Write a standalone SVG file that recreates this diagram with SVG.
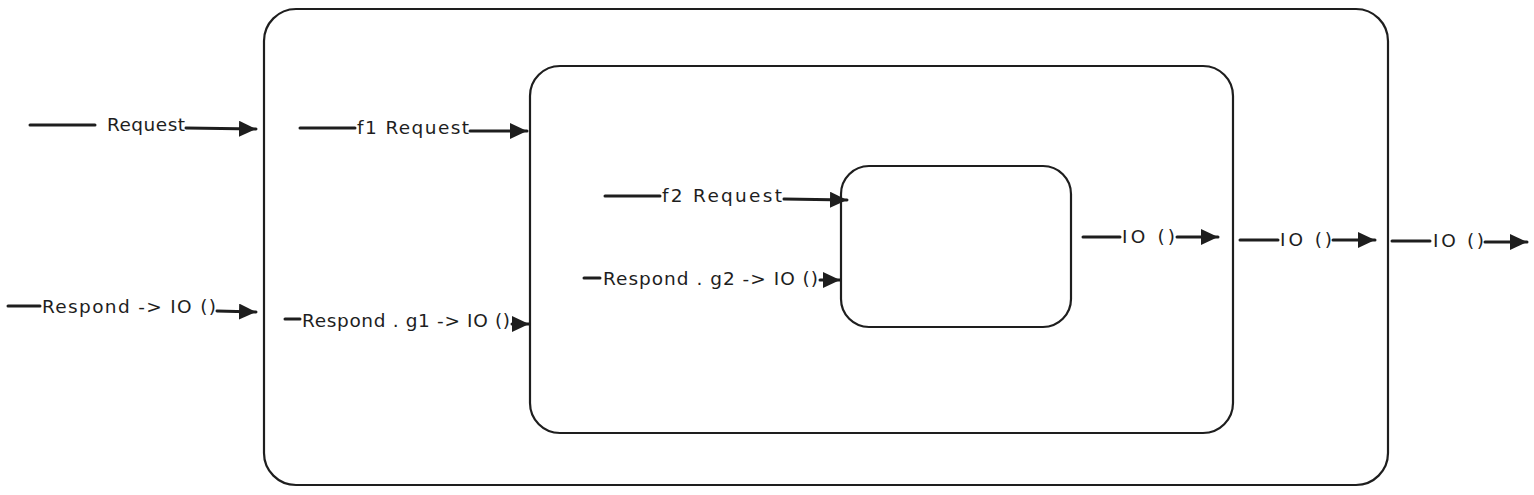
<svg xmlns="http://www.w3.org/2000/svg" width="1534" height="495" viewBox="0 0 1534 495">
<style>
.box{fill:#fff;stroke:#1e1e1e;stroke-width:2.2}
.ln{fill:none;stroke:#1e1e1e;stroke-width:3;stroke-linecap:round}
.lbl{font-family:"DejaVu Sans","Liberation Sans",sans-serif;font-size:18.5px;fill:#1e1e1e}
</style>
<defs>
<marker id="ah" markerUnits="userSpaceOnUse" markerWidth="20" markerHeight="18" refX="17" refY="8" orient="auto">
<path d="M0,0 L17,8 L0,16 z" fill="#1e1e1e"/>
</marker>
</defs>
<rect width="1534" height="495" fill="#fff"/>
<g id="outer"><rect class="box" x="264" y="9" width="1124" height="476" rx="32"/></g>
<g id="middle"><rect class="box" x="530" y="66" width="703" height="367" rx="30"/></g>
<g id="inner"><rect class="box" x="841" y="166" width="230" height="161" rx="28"/></g>
<g id="connectors">
<g id="c1"><path class="ln" d="M30,125 L95,125"/><text class="lbl" x="107" y="131" textLength="78" lengthAdjust="spacing">Request</text><path class="ln" d="M186,128 L256,129" marker-end="url(#ah)"/></g>
<g id="c2"><path class="ln" d="M300,128 L355,128"/><text class="lbl" x="357" y="134" textLength="112" lengthAdjust="spacing">f1  Request</text><path class="ln" d="M470,131 L527,131" marker-end="url(#ah)"/></g>
<g id="c3"><path class="ln" d="M8,306 L40,306"/><text class="lbl" x="42" y="313" textLength="174" lengthAdjust="spacing">Respond -&gt; IO ()</text><path class="ln" d="M217,311 L256,312" marker-end="url(#ah)"/></g>
<g id="c4"><path class="ln" d="M285,319 L300,319"/><text class="lbl" x="302" y="327" textLength="208" lengthAdjust="spacing">Respond . g1 -&gt; IO ()</text><path class="ln" d="M512,324 L529,324" marker-end="url(#ah)"/></g>
<g id="c5"><path class="ln" d="M605,196 L660,196"/><text class="lbl" x="662" y="202" textLength="120" lengthAdjust="spacing">f2  Request</text><path class="ln" d="M784,199 L847,200" marker-end="url(#ah)"/></g>
<g id="c6"><path class="ln" d="M584,278 L600,278"/><text class="lbl" x="603" y="285" textLength="215" lengthAdjust="spacing">Respond . g2 -&gt; IO ()</text><path class="ln" d="M820,280 L840,280" marker-end="url(#ah)"/></g>
<g id="c7"><path class="ln" d="M1083,237 L1120,237"/><text class="lbl" x="1122" y="243" textLength="53" lengthAdjust="spacing">IO ()</text><path class="ln" d="M1177,237 L1218,237" marker-end="url(#ah)"/></g>
<g id="c8"><path class="ln" d="M1240,240 L1278,240"/><text class="lbl" x="1280" y="246" textLength="52" lengthAdjust="spacing">IO ()</text><path class="ln" d="M1333,240 L1375,240" marker-end="url(#ah)"/></g>
<g id="c9"><path class="ln" d="M1392,241 L1430,241"/><text class="lbl" x="1433" y="247" textLength="51" lengthAdjust="spacing">IO ()</text><path class="ln" d="M1485,242 L1527,242" marker-end="url(#ah)"/></g>
</g>
</svg>
